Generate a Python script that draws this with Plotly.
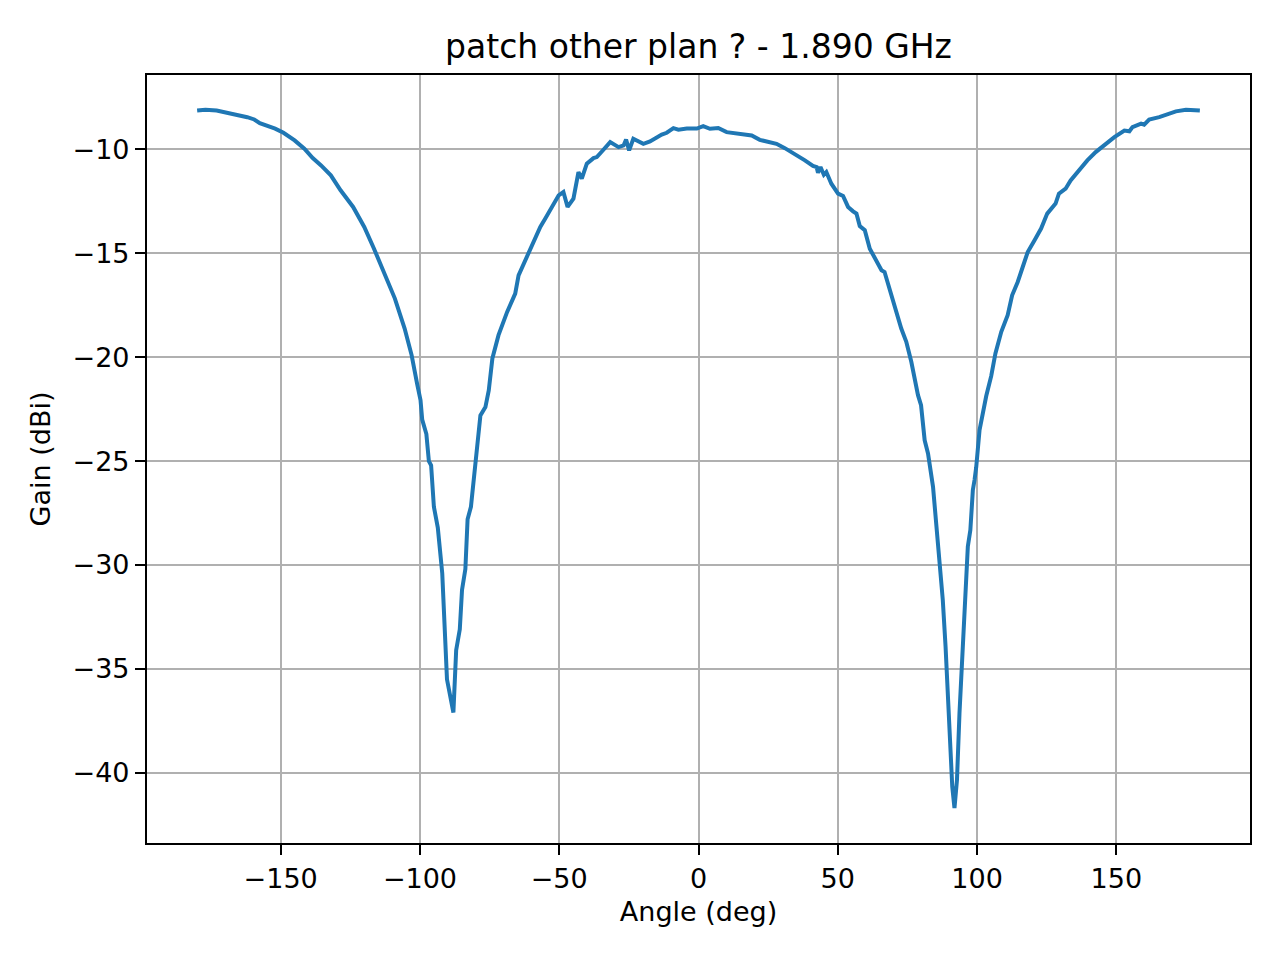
import plotly.graph_objects as go

angle_deg = [
    -180, -177, -173, -167, -162, -159.5, -157.5, -152, -149, -145,
    -141.5, -138.5, -135.5, -132, -128.5, -124, -120, -116.5, -113.5, -109,
    -105.5, -103, -101, -99.8, -99.2, -97.7, -96.8, -96.0, -95.0, -93.6,
    -92.0, -91.5, -91.1, -90.3, -88, -87, -85.7, -84.9, -83.7, -82.9,
    -81.7, -80.7, -79.5, -78.3, -76.5, -75.3, -74, -71.8, -68.7, -65.8,
    -64.6, -62.2, -60.4, -58.6, -56.8, -55, -52.6, -50.2, -48.5, -47,
    -44.9, -43.1, -41.9, -40.1, -37.7, -36.5, -34.7, -31.7, -28.7, -26.9,
    -26, -24.9, -23.4, -19.8, -17.4, -15, -13.2, -11.4, -9, -7.2,
    -4.2, -0.6, 1.7, 4.1, 7.1, 10.1, 13.1, 16.1, 19.1, 22,
    25, 28, 31, 33.4, 35.8, 38.2, 41.1, 42.4, 42.9, 43.8,
    45, 45.9, 47.7, 50.1, 51.9, 53.7, 55.5, 56.7, 57.9, 59.7,
    61.5, 63.9, 65.7, 66.8, 69.2, 71.6, 72.8, 74.6, 76.4, 78.8,
    79.9, 81.2, 82.4, 84.2, 85.4, 86.6, 87.7, 88.7, 89.5, 90.4,
    91.1, 91.9, 92.8, 93.7, 94.9, 95.9, 96.7, 97.6, 98.5, 99.1,
    99.7, 100.9, 102.1, 103.3, 105.1, 106.6, 108.7, 111, 112.6, 114.6,
    116.4, 118.2, 120.6, 123, 125.2, 128.2, 129.4, 131.8, 133.6, 136.6,
    139.6, 142.6, 146.3, 149.3, 152.9, 154.7, 155.8, 158.9, 160, 161.8,
    165.4, 168.4, 171.4, 175, 180,
]
gain_dbi = [
    -8.13, -8.09, -8.13, -8.28, -8.45, -8.56, -8.74, -9.0, -9.2, -9.57,
    -9.97, -10.42, -10.77, -11.25, -11.97, -12.77, -13.73, -14.78, -15.74, -17.18,
    -18.62, -19.9, -21.3, -22.07, -23.0, -23.7, -25.0, -25.2, -27.2, -28.2,
    -30.4, -32.0, -33.8, -35.5, -37.1, -34.1, -33.1, -31.2, -30.2, -27.8,
    -27.2, -25.9, -24.8, -22.8, -22.4, -21.6, -20.06, -18.94, -17.82, -16.94,
    -16.06, -15.34, -14.86, -14.29, -13.73, -13.33, -12.77, -12.21, -12.05, -12.77,
    -12.37, -11.09, -11.41, -10.69, -10.42, -10.37, -10.1, -9.65, -9.89, -9.81,
    -9.52, -10.05, -9.49, -9.73, -9.62, -9.41, -9.29, -9.2, -8.98, -9.05,
    -9.0, -9.0, -8.88, -9.01, -8.97, -9.17, -9.22, -9.29, -9.33, -9.54,
    -9.62, -9.73, -9.94, -10.13, -10.37, -10.53, -10.8, -10.85, -11.12, -10.85,
    -11.22, -11.09, -11.65, -12.13, -12.24, -12.77, -12.98, -13.09, -13.69, -13.89,
    -14.78, -15.34, -15.82, -15.9, -17.02, -17.98, -18.62, -19.26, -20.22, -21.83,
    -22.31, -24.0, -24.63, -26.24, -28.0, -29.76, -31.68, -33.93, -36.33, -38.73,
    -40.66, -41.7, -40.34, -37.13, -33.93, -31.04, -29.11, -28.32, -26.39, -25.91,
    -25.3, -23.51, -22.55, -21.87, -20.9, -19.82, -18.78, -17.98, -17.02, -16.38,
    -15.66, -14.94, -14.38, -13.81, -13.09, -12.61, -12.13, -11.89, -11.49, -11.01,
    -10.53, -10.13, -9.73, -9.41, -9.09, -9.13, -8.93, -8.76, -8.81, -8.57,
    -8.45, -8.33, -8.17, -8.09, -8.13,
]

FONT = "DejaVu Sans"

fig = go.Figure()
fig.add_trace(go.Scatter(
    x=angle_deg, y=gain_dbi, mode="lines",
    line=dict(color="#1f77b4", width=4),
    showlegend=False,
))

axis_style = dict(
    showline=True, mirror=True, linecolor="black", linewidth=2.2,
    ticks="outside", ticklen=10, tickwidth=2.2, tickcolor="black",
    showgrid=True, gridcolor="#b0b0b0", gridwidth=2.2,
    zeroline=False,
    tickfont=dict(family=FONT, size=27, color="black"),
)

# page body has an 8px margin, so the margins are shifted to compensate
fig.update_layout(
    width=1280, height=960,
    paper_bgcolor="white", plot_bgcolor="white",
    margin=dict(l=139, r=38, t=67, b=125),
    font=dict(family=FONT, color="black"),
    title=dict(
        text="patch other plan ? - 1.890 GHz",
        font=dict(family=FONT, size=33, color="black"),
        x=0.5, xref="paper", xanchor="center",
        y=1 - 38 / 960, yref="container", yanchor="middle",
    ),
    xaxis=dict(
        range=[-198, 198], tick0=0, dtick=50,
        title=dict(text="Angle (deg)", font=dict(family=FONT, size=27), standoff=10),
        **axis_style,
    ),
    yaxis=dict(
        range=[-43.38, -6.42], tick0=0, dtick=5,
        title=dict(text="Gain (dBi)", font=dict(family=FONT, size=27), standoff=14),
        **axis_style,
    ),
)

fig.write_html("out.html")
